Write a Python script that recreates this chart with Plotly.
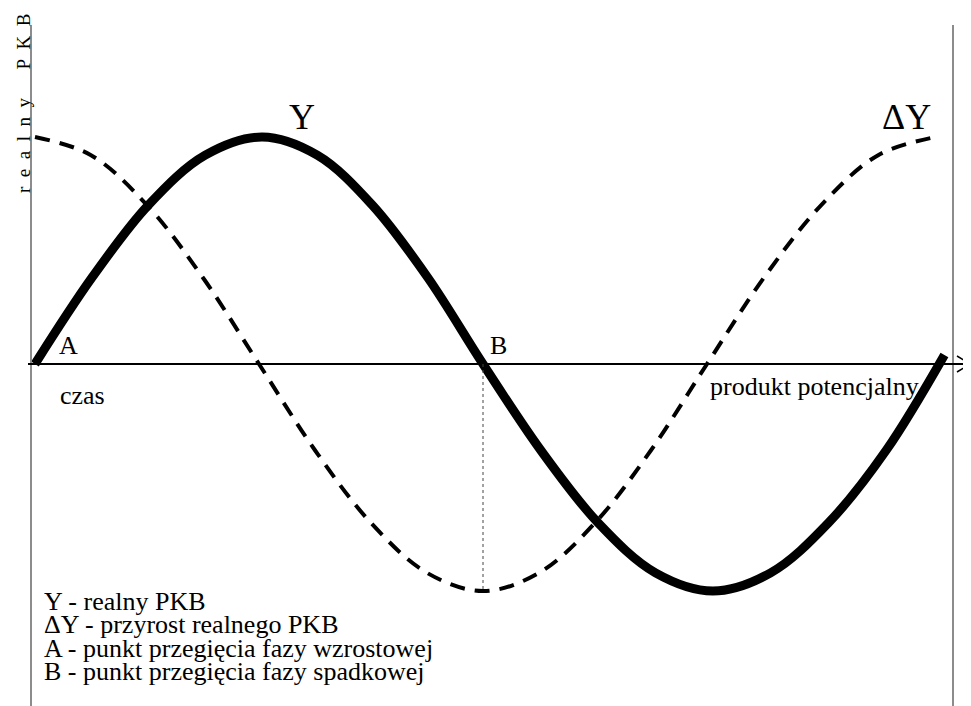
import plotly.graph_objects as go

WIN_W, WIN_H = 971, 706
OFF = 8  # default page body margin
W, H = WIN_W - OFF, WIN_H - OFF

# Data (x: A=0, B=1; y: amplitude units, potential output = 0)
y_x = [0.0, 0.127, 0.253, 0.380, 0.507, 0.630, 0.753, 0.877, 1.0,
       1.129, 1.257, 1.385, 1.513, 1.642, 1.771, 1.900, 2.03]
y_vals = [0.0, 0.38, 0.70, 0.92, 1.0, 0.92, 0.70, 0.38, 0.0,
          -0.38, -0.70, -0.92, -1.0, -0.92, -0.70, -0.38, 0.04]

dy_x = [0.0, 0.125, 0.25, 0.375, 0.5, 0.625, 0.75, 0.875, 1.0,
        1.125, 1.25, 1.375, 1.50, 1.627, 1.755, 1.882, 2.01]
dy_vals = [1.0, 0.92, 0.70, 0.38, 0.0, -0.38, -0.70, -0.92, -1.0,
           -0.92, -0.70, -0.38, 0.0, 0.38, 0.70, 0.92, 1.0]

legend_lines = [
    "Y - realny PKB",
    "ΔY - przyrost realnego PKB",
    "A - punkt przegięcia fazy wzrostowej",
    "B - punkt przegięcia fazy spadkowej",
]

FONT = "Liberation Serif"

# window-pixel mapping of the data frame
X0, XS = 35, 448
Y0, YS = 364, 227
def pxx(p):
    return (p - OFF) / W
def pyy(p):
    return 1 - (p - OFF) / H

fig = go.Figure()
fig.add_trace(go.Scatter(x=dy_x, y=dy_vals, mode="lines",
                         line=dict(color="black", width=4, dash="15px,10px", shape="spline"),
                         hoverinfo="skip"))
fig.add_trace(go.Scatter(x=y_x, y=y_vals, mode="lines",
                         line=dict(color="black", width=9, shape="spline"),
                         hoverinfo="skip"))

xr = [-(X0 - OFF) / XS, (WIN_W - X0) / XS]
yr = [-(WIN_H - Y0) / YS, (Y0 - OFF) / YS]

shapes = [
    dict(type="line", xref="paper", yref="paper", x0=pxx(31), x1=pxx(31), y0=pyy(25), y1=pyy(706),
         line=dict(color="#8c8c8c", width=2)),
    dict(type="line", xref="paper", yref="paper", x0=pxx(953), x1=pxx(953), y0=pyy(25), y1=pyy(706),
         line=dict(color="#8c8c8c", width=2)),
    dict(type="line", xref="paper", yref="y", x0=pxx(28), x1=pxx(968), y0=0, y1=0,
         line=dict(color="black", width=2)),
    dict(type="path", xref="paper", yref="paper",
         path=f"M {pxx(957)},{pyy(356)} L {pxx(970)},{pyy(364)} L {pxx(957)},{pyy(372)}",
         line=dict(color="black", width=1.5)),
    dict(type="line", xref="x", yref="y", x0=1.0, x1=1.0, y0=0, y1=-1.0,
         line=dict(color="#444", width=1, dash="dot")),
]

def ann(text, x, y, size, **kw):
    d = dict(text=text, x=pxx(x), y=pyy(y), xref="paper", yref="paper", showarrow=False,
             xanchor="center", yanchor="middle",
             font=dict(size=size, family=FONT, color="black"))
    d.update(kw)
    return d

annotations = [
    ann("Y", 302, 117, 36),
    ann("ΔY", 906, 117, 36),
    ann("A", 68, 346, 26),
    ann("B", 498, 345, 26),
    ann("czas", 82, 395, 26),
    ann("produkt potencjalny", 814, 386, 26),
    ann("r\u2002e\u2002a\u2002l\u2002n\u2002y\u2003\u2002P\u2002K\u2002B", 24, 104, 19, textangle=-90),
]
for i, t in enumerate(legend_lines):
    annotations.append(ann(t, 42, 601 + 23.5 * i, 26, xanchor="left"))

fig.update_layout(
    width=W, height=H,
    margin=dict(l=0, r=0, t=0, b=0),
    paper_bgcolor="white", plot_bgcolor="white",
    showlegend=False,
    xaxis=dict(range=xr, visible=False, fixedrange=True),
    yaxis=dict(range=yr, visible=False, fixedrange=True),
    shapes=shapes, annotations=annotations,
)

fig.write_html("out.html")
